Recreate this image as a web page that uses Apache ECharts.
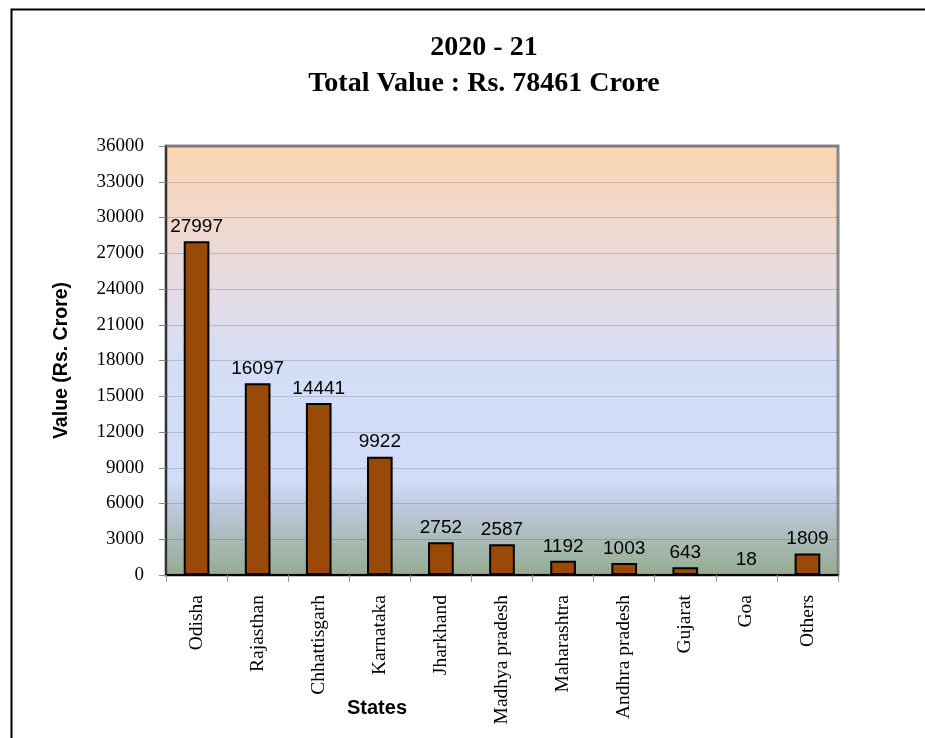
<!DOCTYPE html>
<html>
<head>
<meta charset="utf-8">
<script src="https://cdn.jsdelivr.net/npm/echarts@6/dist/echarts.min.js"></script>
<style>
html,body{margin:0;padding:0;background:#fff;}
#main{width:925px;height:738px;}
</style>
</head>
<body>
<div id="main"></div>
<script>
const categories = ['Odisha','Rajasthan','Chhattisgarh','Karnataka','Jharkhand','Madhya pradesh','Maharashtra','Andhra pradesh','Gujarat','Goa','Others'];
const values = [27997,16097,14441,9922,2752,2587,1192,1003,643,18,1809];
const yMin = 0, yMax = 36000, yStep = 3000;
const titleLines = ['2020 - 21','Total Value : Rs. 78461 Crore'];
const yName = 'Value (Rs. Crore)';
const xName = 'States';

const serif = '"Liberation Serif","Times New Roman",serif';
const sans = '"Liberation Sans",Arial,sans-serif';

const chart = echarts.init(document.getElementById('main'), null, {renderer:'canvas'});
chart.setOption({
  animation:false,
  backgroundColor:'#fff',
  grid:{left:166,right:87,top:146,bottom:163,show:true,borderColor:'#888',borderWidth:3,
    backgroundColor:new echarts.graphic.LinearGradient(0,0,0,1,[
      {offset:0,color:'#FBD5B1'},
      {offset:0.35,color:'#E4DBE6'},
      {offset:0.52,color:'#D3DEF6'},
      {offset:0.78,color:'#D0DCF8'},
      {offset:0.85,color:'#BAC6D8'},
      {offset:1,color:'#93AB8D'}
    ])},
  graphic:[
    {type:'rect',left:9,top:7,shape:{width:960,height:800},style:{fill:'none',stroke:'#000',lineWidth:2},silent:true,z:-1},
    {type:'text',x:484,y:48,style:{text:titleLines[0],font:'bold 28px '+serif,fill:'#000',textAlign:'center',textVerticalAlign:'middle'}},
    {type:'text',x:484,y:84,style:{text:titleLines[1],font:'bold 28px '+serif,fill:'#000',textAlign:'center',textVerticalAlign:'middle'}},
    {type:'text',x:377,y:708,style:{text:xName,font:'bold 20px '+sans,fill:'#000',textAlign:'center',textVerticalAlign:'middle'}}
  ],
  xAxis:{type:'category',data:categories,
    axisLine:{show:true,lineStyle:{color:'#000',width:2}},
    axisTick:{show:true,interval:0,length:7,lineStyle:{color:'#999',width:1}},
    axisLabel:{interval:0,rotate:90,margin:20,fontFamily:serif,fontSize:19.5,color:'#000'}
  },
  yAxis:{type:'value',min:yMin,max:yMax,interval:yStep,
    name:yName,nameLocation:'middle',nameGap:94,nameRotate:90,
    nameTextStyle:{fontFamily:sans,fontWeight:'bold',fontSize:19.5,color:'#000'},
    axisLine:{show:true,lineStyle:{color:'#333',width:2}},
    axisTick:{show:true,length:7,lineStyle:{color:'#888'}},
    axisLabel:{margin:22,fontFamily:serif,fontSize:19,color:'#000',formatter:function(v){return String(v);}},
    splitLine:{show:true,lineStyle:{color:'rgba(0,0,0,0.16)',width:1}}
  },
  series:[{type:'bar',data:values,barWidth:'42%',
    itemStyle:{color:'#9A4A08',borderColor:'#000',borderWidth:2},
    label:{show:true,position:'top',distance:5,fontFamily:sans,fontSize:19,color:'#000'}
  }]
});
</script>
</body>
</html>
